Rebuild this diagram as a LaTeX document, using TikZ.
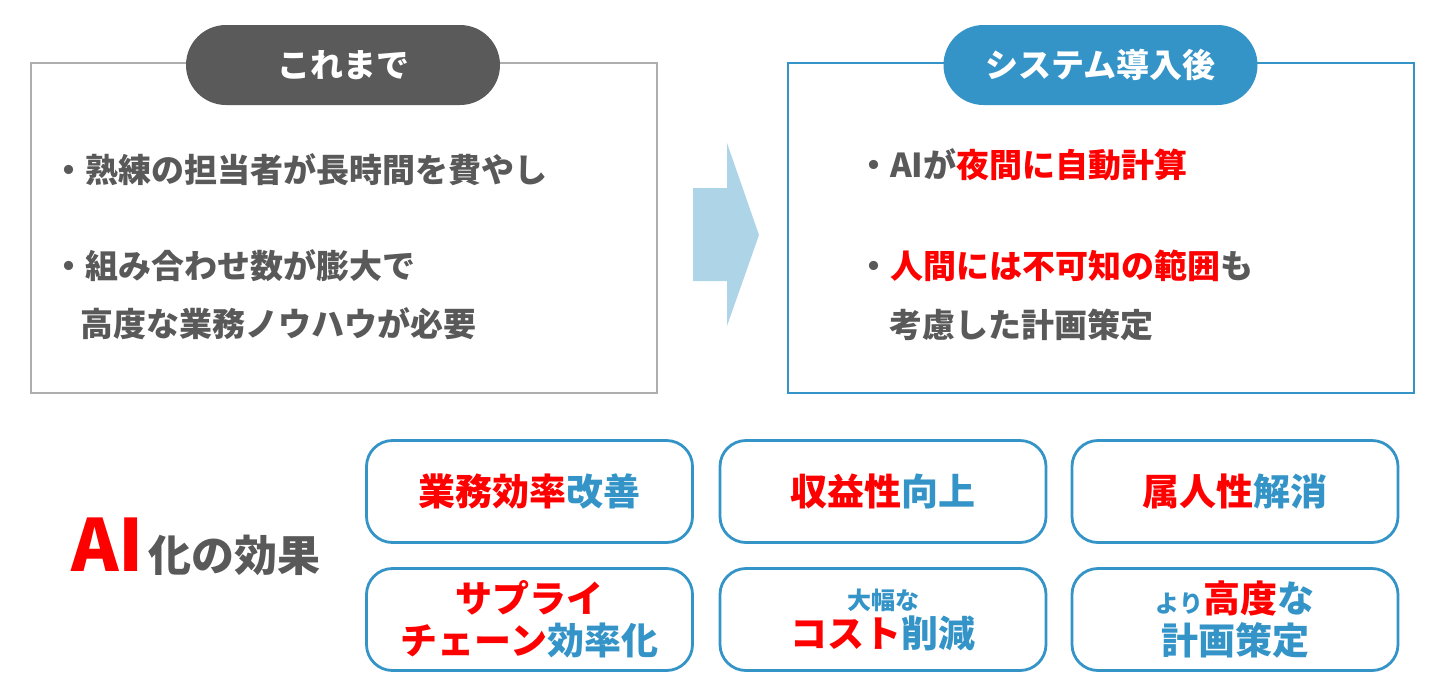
\documentclass[tikz,border=0pt]{standalone}
\usepackage{fontspec}
\setmainfont{Noto Sans CJK JP}
\definecolor{txtgray}{HTML}{595959}
\definecolor{pillgray}{HTML}{5A5A5A}
\definecolor{boxgray}{HTML}{AEAEAE}
\definecolor{aiblue}{HTML}{3494C8}
\definecolor{arrowblue}{HTML}{AED4E8}
\definecolor{hired}{HTML}{FF0000}
\tikzset{
  frame/.style={line width=2.6pt},
  pill/.style={rounded corners=40pt, minimum width=314pt, minimum height=80pt, inner sep=0pt, text=white, font=\fontsize{33}{33}\selectfont\bfseries},
  bodytext/.style={anchor=west, inner sep=0pt, text=txtgray, font=\fontsize{33}{33}\selectfont\bfseries},
  effbox/.style={draw=aiblue, line width=2.8pt, rounded corners=26pt, minimum width=326pt, minimum height=102pt, inner sep=0pt, align=center, text=aiblue, font=\fontsize{37}{42}\selectfont\bfseries},
}
\newcommand{\rd}[1]{{\color{hired}#1}}
\newcommand{\sm}[1]{{\fontsize{24}{24}\selectfont #1}}
\begin{document}
\begin{tikzpicture}[x=1pt,y=-1pt]
\useasboundingbox (0,0) rectangle (1452,694);
% frames
\draw[frame, draw=boxgray] (31,63) rectangle (657,393);
\draw[frame, draw=aiblue] (788,63) rectangle (1414,393);
% pills
\node[pill, fill=pillgray] (before) at (343,65) {これまで};
\node[pill, fill=aiblue] (after) at (1100.5,65) {システム導入後};
% left texts
\node[bodytext] (b1) at (52,170) {・熟練の担当者が長時間を費やし};
\node[bodytext] (b2) at (52,266) {・組み合わせ数が膨大で};
\node[bodytext] (b3) at (80,324) {高度な業務ノウハウが必要};
% right texts
\node[bodytext] (a1) at (857,165) {・AIが\rd{夜間に自動計算}};
\node[bodytext] (a2) at (857,266) {・\rd{人間には不可知の範囲}も};
\node[bodytext] (a3) at (889,325) {考慮した計画策定};
% arrow
\fill[arrowblue] (693,188) -- (727,188) -- (727,143) -- (759,235) -- (727,326) -- (727,281) -- (693,281) -- cycle;
% AI effect title
\node[anchor=base west, inner sep=0pt, text=txtgray] (title) at (71,571)
  {{\fontsize{72}{72}\selectfont\bfseries\color{hired}AI}\kern5pt{\fontsize{43}{43}\selectfont\bfseries 化の効果}};
% effect boxes
\node[effbox] (e1) at (529.5,491.5) {\rd{業務効率}改善};
\node[effbox] (e2) at (883,491.5) {\rd{収益性}向上};
\node[effbox] (e3) at (1235,491.5) {\rd{属人性}解消};
\node[effbox] (e4) at (529.5,619.5) {\rd{サプライ}\\\rd{チェーン}効率化};
\node[effbox] (e5) at (883,619.5) {\sm{大幅な}\\[-4pt]\rd{コスト}削減};
\node[effbox] (e6) at (1235,619.5) {\sm{より}\rd{高度}な\\計画策定};
\end{tikzpicture}
\end{document}
